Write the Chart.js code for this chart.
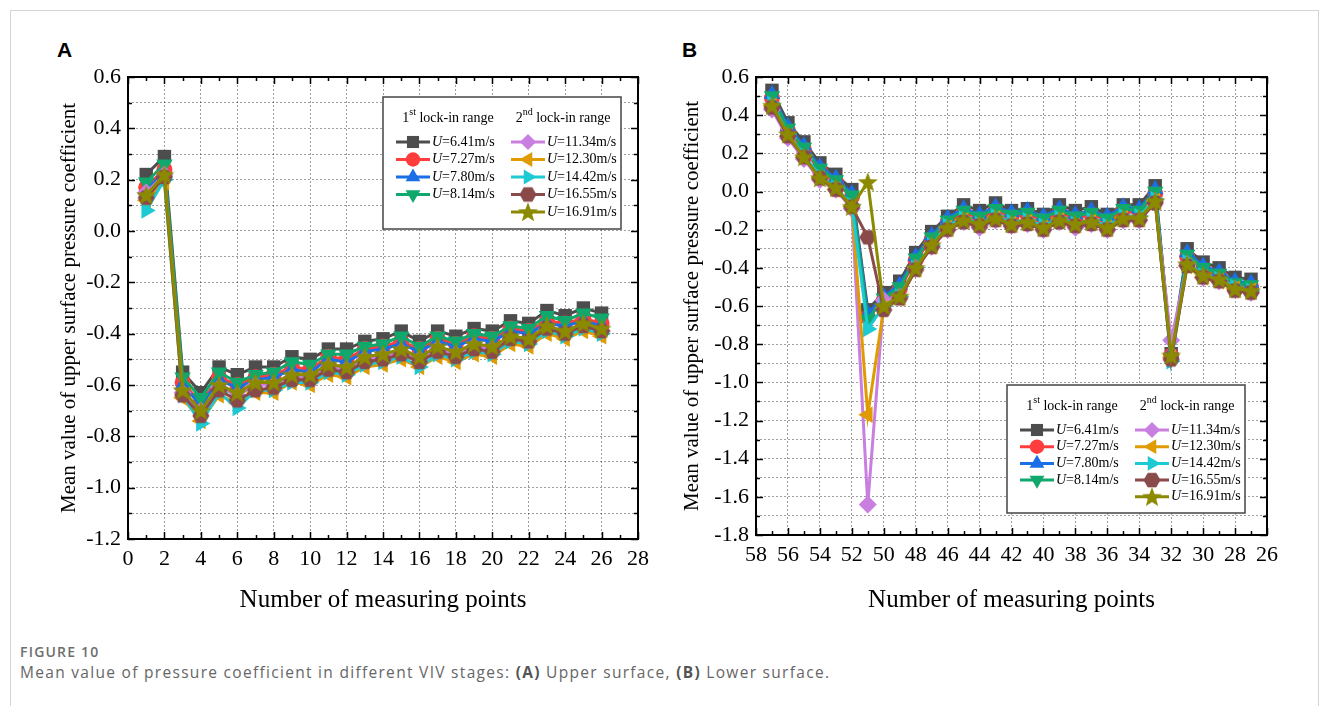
<!DOCTYPE html>
<html>
<head>
<meta charset="utf-8">
<script src="https://cdn.jsdelivr.net/npm/chart.js@4.4.0/dist/chart.umd.min.js"></script>
<style>
  body { margin: 0; background: #fff; width: 1328px; height: 706px; overflow: hidden; position: relative; }
  .frame { position: absolute; left: 10px; top: 10px; width: 1307px; height: 740px; border: 1px solid #d4d4d4; }
  .panel { position: absolute; top: 50px; width: 640px; height: 580px; }
  .tag { position: absolute; top: 38px; font: bold 21px "Liberation Sans", Arial, sans-serif; color: #000; }
  .figno { position: absolute; left: 20px; top: 642px; font: 600 14px "Open Sans", sans-serif; color: #6e6e6e; letter-spacing: 1.2px; }
  .caption { position: absolute; left: 20px; top: 661px; font: 15.5px "Open Sans", sans-serif; color: #666; letter-spacing: 1.3px; }
  .caption b { color: #555; }
</style>
</head>
<body>
<div class="frame"></div>
<div class="tag" style="left:57px">A</div>
<div class="tag" style="left:682px">B</div>
<div class="panel" style="left:30px"><canvas id="upperChart"></canvas></div>
<div class="panel" style="left:660px"><canvas id="lowerChart"></canvas></div>
<div class="figno">FIGURE 10</div>
<div class="caption">Mean value of pressure coefficient in different VIV stages: <b>(A)</b> Upper surface, <b>(B)</b> Lower surface.</div>

<script>
// measuring points
const xUpper = [1, 2, 3, 4, 5, 6, 7, 8, 9, 10, 11, 12, 13, 14, 15, 16, 17, 18, 19, 20, 21, 22, 23, 24, 25, 26];
const xLower = [57, 56, 55, 54, 53, 52, 51, 50, 49, 48, 47, 46, 45, 44, 43, 42, 41, 40, 39, 38, 37, 36, 35, 34, 33, 32, 31, 30, 29, 28, 27];

const speeds = ['6.41', '7.27', '7.80', '8.14', '11.34', '12.30', '14.42', '16.55', '16.91'];

// upper surface (A)
const upper_641 = [0.22, 0.29, -0.55, -0.63, -0.53, -0.56, -0.53, -0.53, -0.49, -0.50, -0.46, -0.46, -0.43, -0.42, -0.39, -0.43, -0.39, -0.41, -0.38, -0.39, -0.35, -0.36, -0.31, -0.33, -0.30, -0.32];
const upper_727 = [0.17, 0.24, -0.59, -0.67, -0.57, -0.60, -0.57, -0.56, -0.53, -0.54, -0.49, -0.50, -0.46, -0.45, -0.43, -0.46, -0.42, -0.44, -0.41, -0.42, -0.38, -0.39, -0.35, -0.36, -0.34, -0.36];
const upper_780 = [0.16, 0.23, -0.60, -0.68, -0.58, -0.61, -0.58, -0.57, -0.54, -0.55, -0.50, -0.51, -0.47, -0.46, -0.44, -0.47, -0.43, -0.45, -0.42, -0.43, -0.39, -0.40, -0.36, -0.37, -0.35, -0.37];
const upper_814 = [0.19, 0.26, -0.57, -0.65, -0.55, -0.59, -0.56, -0.55, -0.51, -0.52, -0.48, -0.48, -0.45, -0.44, -0.41, -0.45, -0.41, -0.43, -0.40, -0.41, -0.37, -0.38, -0.33, -0.35, -0.32, -0.34];
const upper_1134 = [0.15, 0.22, -0.63, -0.70, -0.61, -0.64, -0.60, -0.60, -0.57, -0.57, -0.53, -0.54, -0.50, -0.49, -0.47, -0.50, -0.46, -0.48, -0.45, -0.46, -0.42, -0.43, -0.38, -0.40, -0.37, -0.39];
const upper_1230 = [0.12, 0.19, -0.65, -0.74, -0.64, -0.67, -0.63, -0.63, -0.59, -0.60, -0.56, -0.57, -0.53, -0.52, -0.50, -0.53, -0.49, -0.51, -0.48, -0.49, -0.44, -0.45, -0.40, -0.42, -0.39, -0.41];
const upper_1442 = [0.08, 0.20, -0.64, -0.75, -0.63, -0.69, -0.62, -0.62, -0.59, -0.59, -0.55, -0.56, -0.52, -0.51, -0.49, -0.53, -0.48, -0.50, -0.47, -0.48, -0.43, -0.44, -0.39, -0.41, -0.38, -0.40];
const upper_1655 = [0.13, 0.21, -0.64, -0.72, -0.62, -0.66, -0.62, -0.61, -0.58, -0.58, -0.54, -0.55, -0.51, -0.50, -0.48, -0.51, -0.47, -0.49, -0.46, -0.47, -0.42, -0.43, -0.38, -0.40, -0.37, -0.39];
const upper_1691 = [0.14, 0.22, -0.62, -0.70, -0.60, -0.63, -0.59, -0.59, -0.56, -0.56, -0.52, -0.53, -0.49, -0.48, -0.46, -0.49, -0.45, -0.47, -0.44, -0.45, -0.41, -0.42, -0.37, -0.39, -0.36, -0.38];

// lower surface (B)
const lower_641 = [0.53, 0.36, 0.26, 0.15, 0.09, 0.01, -0.62, -0.53, -0.47, -0.32, -0.21, -0.13, -0.07, -0.10, -0.06, -0.10, -0.09, -0.12, -0.07, -0.10, -0.08, -0.12, -0.07, -0.07, 0.03, -0.85, -0.30, -0.37, -0.40, -0.45, -0.46];
const lower_727 = [0.49, 0.32, 0.22, 0.11, 0.05, -0.03, -0.66, -0.57, -0.51, -0.36, -0.25, -0.16, -0.11, -0.14, -0.10, -0.13, -0.12, -0.15, -0.11, -0.14, -0.12, -0.15, -0.10, -0.11, -0.01, -0.86, -0.34, -0.41, -0.44, -0.49, -0.50];
const lower_780 = [0.51, 0.34, 0.24, 0.13, 0.07, -0.01, -0.64, -0.55, -0.49, -0.34, -0.23, -0.14, -0.09, -0.12, -0.08, -0.11, -0.10, -0.13, -0.09, -0.12, -0.10, -0.13, -0.08, -0.09, 0.01, -0.85, -0.32, -0.39, -0.42, -0.47, -0.48];
const lower_814 = [0.50, 0.33, 0.23, 0.12, 0.06, -0.02, -0.67, -0.56, -0.50, -0.35, -0.24, -0.15, -0.10, -0.13, -0.09, -0.12, -0.11, -0.14, -0.10, -0.13, -0.11, -0.14, -0.09, -0.10, 0.00, -0.87, -0.33, -0.40, -0.43, -0.48, -0.49];
const lower_1134 = [0.43, 0.28, 0.17, 0.06, 0.01, -0.09, -1.64, -0.57, -0.55, -0.40, -0.29, -0.20, -0.16, -0.19, -0.15, -0.18, -0.17, -0.20, -0.16, -0.19, -0.17, -0.20, -0.15, -0.15, -0.05, -0.78, -0.38, -0.45, -0.47, -0.51, -0.53];
const lower_1230 = [0.45, 0.29, 0.18, 0.07, 0.01, -0.08, -1.17, -0.61, -0.56, -0.41, -0.29, -0.19, -0.15, -0.18, -0.14, -0.17, -0.16, -0.19, -0.15, -0.18, -0.16, -0.19, -0.14, -0.14, -0.05, -0.87, -0.39, -0.45, -0.47, -0.51, -0.52];
const lower_1442 = [0.46, 0.30, 0.19, 0.08, 0.02, -0.07, -0.72, -0.60, -0.55, -0.40, -0.28, -0.18, -0.14, -0.17, -0.13, -0.16, -0.15, -0.18, -0.14, -0.17, -0.15, -0.18, -0.13, -0.13, -0.04, -0.89, -0.37, -0.44, -0.46, -0.50, -0.52];
const lower_1655 = [0.44, 0.29, 0.18, 0.07, 0.01, -0.08, -0.24, -0.62, -0.56, -0.41, -0.29, -0.20, -0.16, -0.18, -0.15, -0.18, -0.17, -0.20, -0.16, -0.18, -0.17, -0.20, -0.15, -0.15, -0.06, -0.88, -0.39, -0.45, -0.47, -0.52, -0.53];
const lower_1691 = [0.45, 0.30, 0.18, 0.07, 0.02, -0.08, 0.05, -0.60, -0.55, -0.40, -0.28, -0.19, -0.15, -0.17, -0.14, -0.17, -0.16, -0.19, -0.15, -0.17, -0.16, -0.19, -0.14, -0.14, -0.05, -0.86, -0.38, -0.44, -0.46, -0.51, -0.52];

const colors = ['#4d4d4d', '#ff3d3d', '#1b6ee6', '#10a86c', '#c97fe0', '#e09b00', '#1dc9d2', '#8a4a4a', '#8b8a00'];

// filled hexagon / star for the last two series (no such built-in styles)
function hexImg(color) {
  const c = document.createElement('canvas');
  c.width = 18; c.height = 18;
  const g = c.getContext('2d');
  g.fillStyle = color;
  g.beginPath();
  for (let k = 0; k < 6; k++) {
    const a = k * Math.PI / 3;
    g.lineTo(9 + 8.5 * Math.cos(a), 9 + 8.5 * Math.sin(a));
  }
  g.closePath();
  g.fill();
  return c;
}
function starImg(color) {
  const c = document.createElement('canvas');
  c.width = 22; c.height = 22;
  const g = c.getContext('2d');
  g.fillStyle = color;
  g.beginPath();
  for (let k = 0; k < 10; k++) {
    const r = k % 2 ? 4.4 : 10.5;
    const a = -Math.PI / 2 + k * Math.PI / 5;
    g.lineTo(11 + r * Math.cos(a), 11.8 + r * Math.sin(a));
  }
  g.closePath();
  g.fill();
  return c;
}

const markers = [
  { style: 'rect', r: 9.5, rot: 0 },
  { style: 'circle', r: 8, rot: 0 },
  { style: 'triangle', r: 9.5, rot: 0 },
  { style: 'triangle', r: 9.5, rot: 180 },
  { style: 'rectRot', r: 9, rot: 0 },
  { style: 'triangle', r: 9.5, rot: 270 },
  { style: 'triangle', r: 9.5, rot: 90 },
  { style: hexImg(colors[7]), r: 9, rot: 0 },
  { style: starImg(colors[8]), r: 10, rot: 0 },
];

const gridCol = 'rgba(0,0,0,0.38)';
const serif = '"Liberation Serif", "Times New Roman", serif';

// inward ticks on all four sides + black frame
const frameTicks = {
  id: 'frameTicks',
  afterDraw(chart) {
    const { ctx, chartArea: a, scales: { x, y } } = chart;
    ctx.save();
    ctx.strokeStyle = '#000';
    ctx.lineWidth = 1.5;
    ctx.beginPath();
    x.ticks.forEach(t => {
      const px = Math.round(x.getPixelForValue(t.value)) + 0.5;
      const len = t.value % 2 === 0 ? 7 : 4;
      ctx.moveTo(px, a.bottom); ctx.lineTo(px, a.bottom - len);
      ctx.moveTo(px, a.top); ctx.lineTo(px, a.top + len);
    });
    y.ticks.forEach(t => {
      const py = Math.round(y.getPixelForValue(t.value)) + 0.5;
      const len = Math.round(t.value * 10) % 2 === 0 ? 7 : 4;
      ctx.moveTo(a.left, py); ctx.lineTo(a.left + len, py);
      ctx.moveTo(a.right, py); ctx.lineTo(a.right - len, py);
    });
    ctx.stroke();
    ctx.lineWidth = 2;
    ctx.strokeRect(a.left, a.top, a.right - a.left, a.bottom - a.top);
    ctx.restore();
  }
};

function drawHeader(ctx, n, sup, cx, baseY) {
  ctx.font = '14px ' + serif;
  const w1 = ctx.measureText(n).width;
  const w3 = ctx.measureText(' lock-in range').width;
  ctx.font = '10px ' + serif;
  const w2 = ctx.measureText(sup).width;
  let x0 = cx - (w1 + w2 + w3) / 2;
  ctx.font = '14px ' + serif;
  ctx.fillText(n, x0, baseY);
  ctx.font = '10px ' + serif;
  ctx.fillText(sup, x0 + w1, baseY - 7);
  ctx.font = '14px ' + serif;
  ctx.fillText(' lock-in range', x0 + w1 + w2, baseY);
}

const lockLegend = {
  id: 'lockLegend',
  afterDraw(chart, args, opts) {
    const { ctx, chartArea: a } = chart;
    const bx = a.left + opts.left, by = a.top + opts.top;
    const bw = 238, bh = opts.height, step = opts.step;
    ctx.save();
    ctx.fillStyle = '#fff';
    ctx.fillRect(bx, by, bw, bh);
    ctx.strokeStyle = '#444';
    ctx.lineWidth = 1.5;
    ctx.strokeRect(bx, by, bw, bh);
    ctx.fillStyle = '#000';
    ctx.textBaseline = 'alphabetic';
    drawHeader(ctx, '1', 'st', bx + 65, by + 25);
    drawHeader(ctx, '2', 'nd', bx + 180, by + 25);
    ctx.textBaseline = 'middle';
    speeds.forEach((s, i) => {
      const col = i < 4 ? 0 : 1;
      const row = i < 4 ? i : i - 4;
      const lx = bx + (col ? 128 : 13);
      const ly = by + 45 + row * step;
      ctx.strokeStyle = colors[i];
      ctx.lineWidth = 3;
      ctx.beginPath();
      ctx.moveTo(lx, ly); ctx.lineTo(lx + 34, ly);
      ctx.stroke();
      ctx.fillStyle = colors[i];
      const m = markers[i];
      Chart.helpers.drawPoint(ctx, { pointStyle: m.style, rotation: m.rot, radius: m.r * 0.9, borderWidth: 0 }, lx + 17, ly);
      ctx.fillStyle = '#000';
      ctx.font = 'italic 14px ' + serif;
      ctx.fillText('U', lx + 36, ly);
      const uw = ctx.measureText('U').width;
      ctx.font = '14px ' + serif;
      ctx.fillText('=' + s + 'm/s', lx + 36 + uw, ly);
    });
    ctx.restore();
  }
};

function buildChart(id, xs, series, xOpts, yOpts, pad, legendPos) {
  return new Chart(document.getElementById(id), {
    type: 'line',
    data: {
      datasets: series.map((vals, i) => ({
        label: 'U=' + speeds[i] + 'm/s',
        data: xs.map((x, k) => ({ x: x, y: vals[k] })),
        borderColor: colors[i],
        backgroundColor: colors[i],
        borderWidth: 3,
        pointStyle: markers[i].style,
        pointRotation: markers[i].rot,
        pointRadius: markers[i].r,
        pointHoverRadius: markers[i].r,
        pointBorderWidth: 0,
        tension: 0,
        order: series.length - i,
      }))
    },
    options: {
      responsive: true,
      maintainAspectRatio: false,
      animation: false,
      layout: { padding: { top: 27, right: pad.right, left: 0, bottom: 0 } },
      scales: {
        x: {
          type: 'linear',
          reverse: xOpts.reverse,
          min: xOpts.min,
          max: xOpts.max,
          afterFit: s => { s.height = pad.xHeight; },
          border: { display: false, dash: [2, 2] },
          grid: {
            drawTicks: false,
            lineWidth: 1,
            color: c => (c.tick && c.tick.value % 2 === 0) ? gridCol : 'rgba(0,0,0,0)',
          },
          ticks: {
            stepSize: 1,
            autoSkip: false,
            maxRotation: 0,
            padding: 7,
            color: '#000',
            font: { family: serif, size: 22 },
            callback: v => v % 2 === 0 ? String(v) : '',
          },
          title: {
            display: true,
            text: 'Number of measuring points',
            color: '#000',
            font: { family: serif, size: 25 },
            padding: { top: 0, bottom: 15 },
          }
        },
        y: {
          min: yOpts.min,
          max: yOpts.max,
          afterFit: s => { s.width = pad.yWidth; },
          border: { display: false, dash: [2, 2] },
          grid: { drawTicks: false, lineWidth: 1, color: gridCol },
          ticks: {
            stepSize: 0.1,
            autoSkip: false,
            padding: 7,
            color: '#000',
            font: { family: serif, size: 22 },
            callback: v => Math.round(v * 10) % 2 === 0 ? (Math.round(v * 10) / 10).toFixed(1) : '',
          },
          title: {
            display: true,
            text: 'Mean value of upper surface pressure coefficient',
            color: '#000',
            font: { family: serif, size: 21 },
            padding: { top: pad.titleLeft, bottom: 0 },
          }
        }
      },
      plugins: {
        legend: { display: false },
        tooltip: { enabled: false },
        lockLegend: legendPos,
      }
    },
    plugins: [frameTicks, lockLegend],
  });
}

const upperChart_1 = buildChart('upperChart', xUpper,
  [upper_641, upper_727, upper_780, upper_814, upper_1134, upper_1230, upper_1442, upper_1655, upper_1691],
  { min: 0, max: 28, reverse: false },
  { min: -1.2, max: 0.6 },
  { right: 32, xHeight: 91, yWidth: 98, titleLeft: 27 },
  { left: 255, top: 20, height: 132, step: 17.5 });

const lowerChart_1 = buildChart('lowerChart', xLower,
  [lower_641, lower_727, lower_780, lower_814, lower_1134, lower_1230, lower_1442, lower_1655, lower_1691],
  { min: 26, max: 58, reverse: true },
  { min: -1.8, max: 0.6 },
  { right: 33, xHeight: 95, yWidth: 96, titleLeft: 20 },
  { left: 251, top: 308, height: 128, step: 16.7 });
</script>
</body>
</html>
